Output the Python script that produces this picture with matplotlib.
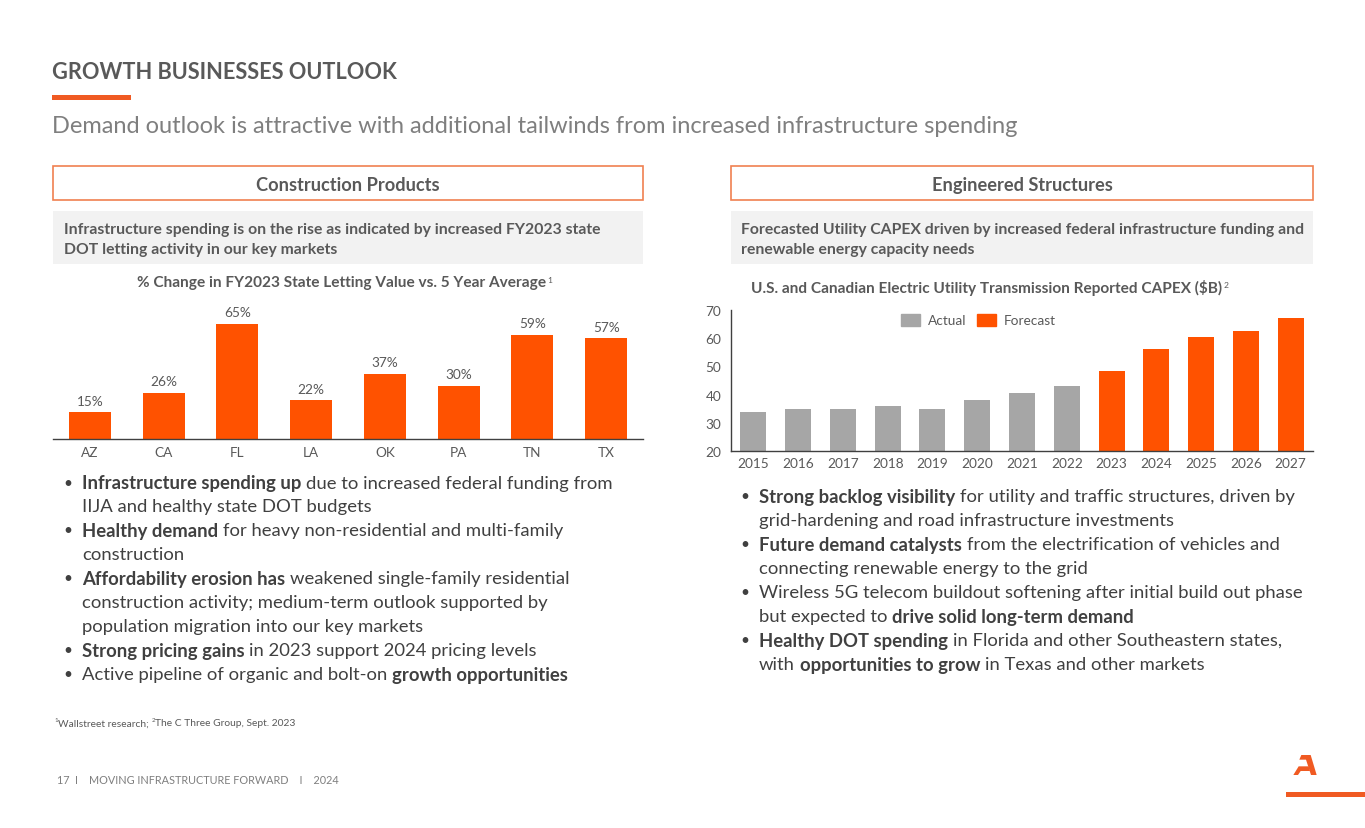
import matplotlib
matplotlib.use('Agg')
import matplotlib.pyplot as plt
from matplotlib.patches import Rectangle, Polygon, Patch

W, H = 1365, 829
plt.rcParams['font.family'] = ['Lato', 'DejaVu Sans']

ORANGE = '#FF5200'
GREY_BAR = '#A6A6A6'
DARK = '#595959'
BODY = '#404040'
LIGHT = '#7F7F7F'

# data
states = ['AZ', 'CA', 'FL', 'LA', 'OK', 'PA', 'TN', 'TX']
letting_change = [15, 26, 65, 22, 37, 30, 59, 57]

years = ['2015', '2016', '2017', '2018', '2019', '2020', '2021',
         '2022', '2023', '2024', '2025', '2026', '2027']
capex = [34, 35, 35, 36, 35, 38, 40.5, 43, 48.5, 56, 60.5, 62.5, 67]
forecast = [False, False, False, False, False, False, False, False,
            True, True, True, True, True]

title = 'GROWTH BUSINESSES OUTLOOK'
subtitle = 'Demand outlook is attractive with additional tailwinds from increased infrastructure spending'

# bullet lines: (has_bullet, [(text, bold), ...])
left_bullets = [
    (True, [('Infrastructure spending up', True), ('due to increased federal funding from', False)]),
    (False, [('IIJA and healthy state DOT budgets', False)]),
    (True, [('Healthy demand', True), ('for heavy non-residential and multi-family', False)]),
    (False, [('construction', False)]),
    (True, [('Affordability erosion has', True), ('weakened single-family residential', False)]),
    (False, [('construction activity; medium-term outlook supported by', False)]),
    (False, [('population migration into our key markets', False)]),
    (True, [('Strong pricing gains', True), ('in 2023 support 2024 pricing levels', False)]),
    (True, [('Active pipeline of organic and bolt-on', False), ('growth opportunities', True)]),
]
right_bullets = [
    (True, [('Strong backlog visibility', True), ('for utility and traffic structures, driven by', False)]),
    (False, [('grid-hardening and road infrastructure investments', False)]),
    (True, [('Future demand catalysts', True), ('from the electrification of vehicles and', False)]),
    (False, [('connecting renewable energy to the grid', False)]),
    (True, [('Wireless 5G telecom buildout softening after initial build out phase', False)]),
    (False, [('but expected to', False), ('drive solid long-term demand', True)]),
    (True, [('Healthy DOT spending', True), ('in Florida and other Southeastern states,', False)]),
    (False, [('with', False), ('opportunities to grow', True), ('in Texas and other markets', False)]),
]

fig = plt.figure(figsize=(W / 100, H / 100), dpi=100)
fig.patch.set_facecolor('white')
bg = fig.add_axes([0, 0, 1, 1])
bg.set_xlim(0, W)
bg.set_ylim(H, 0)
bg.axis('off')
r = fig.canvas.get_renderer()


def width_of(s, size, bold=False):
    t = bg.text(0, 0, s, fontsize=size, fontweight='bold' if bold else 'normal')
    w = t.get_window_extent(renderer=r).width
    t.remove()
    return w


def fit(s, target, bold=False):
    return 10 * target / width_of(s, 10, bold)


def txt(x, y, s, size, color=DARK, bold=False, ha='left', va='center'):
    return bg.text(x, y, s, fontsize=size, color=color, ha=ha, va=va,
                   fontweight='bold' if bold else 'normal')


def px_axes(x0, y0, x1, y1):
    return fig.add_axes([x0 / W, 1 - y1 / H, (x1 - x0) / W, (y1 - y0) / H])


# header
txt(52, 72, title, fit(title, 345, True), DARK, True)
bg.add_patch(Rectangle((52, 96), 79, 5, color='#F05A22', lw=0))
txt(52, 126, subtitle, fit(subtitle, 972), LIGHT)

# section boxes
hsize = fit('Construction Products', 184, True)
for x0, x1, name in [(53, 643, 'Construction Products'), (731, 1313, 'Engineered Structures')]:
    bg.add_patch(Rectangle((x0, 167), x1 - x0, 34, fill=False, ec='#F08050', lw=1.2))
    txt((x0 + x1) / 2, 185, name, hsize, DARK, True, ha='center')
    bg.add_patch(Rectangle((x0, 212), x1 - x0, 53, color='#F2F2F2', lw=0))

gsize = fit('Infrastructure spending is on the rise as indicated by increased FY2023 state', 535, True)
txt(64, 230, 'Infrastructure spending is on the rise as indicated by increased FY2023 state', gsize, DARK, True)
txt(64, 250, 'DOT letting activity in our key markets', gsize, DARK, True)
txt(741, 230, 'Forecasted Utility CAPEX driven by increased federal infrastructure funding and', gsize, DARK, True)
txt(741, 250, 'renewable energy capacity needs', gsize, DARK, True)

# chart titles
ctitle1 = '% Change in FY2023 State Letting Value vs. 5 Year Average'
ctitle2 = 'U.S. and Canadian Electric Utility Transmission Reported CAPEX ($B)'
csize = fit(ctitle1, 408, True)
t1 = txt(137, 283, ctitle1, csize, DARK, True)
e1 = t1.get_window_extent(renderer=r)
txt(e1.x1 + 1, 280, '1', csize * 0.55, DARK)
t2 = txt(751, 288, ctitle2, csize, DARK, True)
e2 = t2.get_window_extent(renderer=r)
txt(e2.x1 + 1, 285, '2', csize * 0.55, DARK)

# left chart
ax1 = px_axes(53, 300, 643, 440)
bars = ax1.bar(states, letting_change, width=0.57, color=ORANGE)
ax1.set_xlim(-0.5, len(states) - 0.5)
ax1.set_ylim(0, 140 / 1.77)
for s in ['top', 'right', 'left']:
    ax1.spines[s].set_visible(False)
ax1.spines['bottom'].set_color('#404040')
ax1.spines['bottom'].set_linewidth(1.0)
ax1.set_yticks([])
ax1.tick_params(axis='x', length=0, pad=5, labelsize=9.8, labelcolor=DARK)
ax1.bar_label(bars, labels=[f'{v}%' for v in letting_change], padding=4,
              fontsize=9.8, color=DARK)
ax1.patch.set_alpha(0)

# right chart
ax2 = px_axes(731, 311, 1313, 452)
colors = [ORANGE if f else GREY_BAR for f in forecast]
ax2.bar(years, capex, width=0.58, color=colors)
ax2.set_xlim(-0.5, len(years) - 0.5)
ax2.set_ylim(20, 70)
ax2.set_yticks([20, 30, 40, 50, 60, 70])
for s in ['top', 'right']:
    ax2.spines[s].set_visible(False)
for s in ['left', 'bottom']:
    ax2.spines[s].set_color('#404040')
    ax2.spines[s].set_linewidth(1.0)
ax2.tick_params(length=0, labelsize=9.8, labelcolor=DARK)
ax2.tick_params(axis='y', pad=7)
ax2.tick_params(axis='x', pad=4)
ax2.patch.set_alpha(0)
ax2.legend(handles=[Patch(color=GREY_BAR, label='Actual'), Patch(color=ORANGE, label='Forecast')],
           ncol=2, frameon=False, loc='center left', bbox_to_anchor=(889 / W, 1 - 321 / H),
           bbox_transform=fig.transFigure, fontsize=9.8, labelcolor=DARK,
           handlelength=1.4, handleheight=1.0, handletextpad=0.55, columnspacing=0.8)

# bullets
bsize = fit('Wireless 5G telecom buildout softening after initial build out phase', 543)
space = width_of('a a', bsize) - width_of('aa', bsize)


def draw_lines(lines, xb, xt, ys):
    for (has_b, segs), y in zip(lines, ys):
        if has_b:
            txt(xb, y, '•', bsize * 0.85, BODY)
        x = xt
        for i, (s, b) in enumerate(segs):
            if i > 0:
                x += space
            t = txt(x, y, s, bsize, BODY, b)
            x = t.get_window_extent(renderer=r).x1


draw_lines(left_bullets, 63, 82, [484, 507, 531, 555, 579, 603, 627, 651, 675])
draw_lines(right_bullets, 740, 759, [497, 521, 545, 569, 593, 617, 641, 665])

# footnote and footer
fsize = fit('Wallstreet research; 2The C Three Group, Sept. 2023', 240)
txt(54, 721, '1', fsize * 0.6, DARK)
a = txt(58, 724, 'Wallstreet research; ', fsize, DARK)
xa = a.get_window_extent(renderer=r).x1
txt(xa, 721, '2', fsize * 0.6, DARK)
txt(xa + 4, 724, 'The C Three Group, Sept. 2023', fsize, DARK)

footer = '17  I    MOVING INFRASTRUCTURE FORWARD    I    2024'
txt(57, 781, footer, fit(footer, 281), LIGHT)


# logo
def zpt(p):
    return (1280 + p[0] / 3, 750 + p[1] / 3)


bg.add_patch(Polygon([zpt(p) for p in [(64, 18), (92, 18), (110, 78), (93, 78), (78, 32), (58, 32)]],
                     color='#F05A22', lw=0))
bg.add_patch(Polygon([zpt(p) for p in [(56, 52), (86, 52), (90, 66), (62, 66), (54, 78), (40, 78)]],
                     color='#F05A22', lw=0))
bg.add_patch(Rectangle((1286, 793), 79, 5, color='#F05A22', lw=0))

fig.savefig('out.png', dpi=100, facecolor='white')
